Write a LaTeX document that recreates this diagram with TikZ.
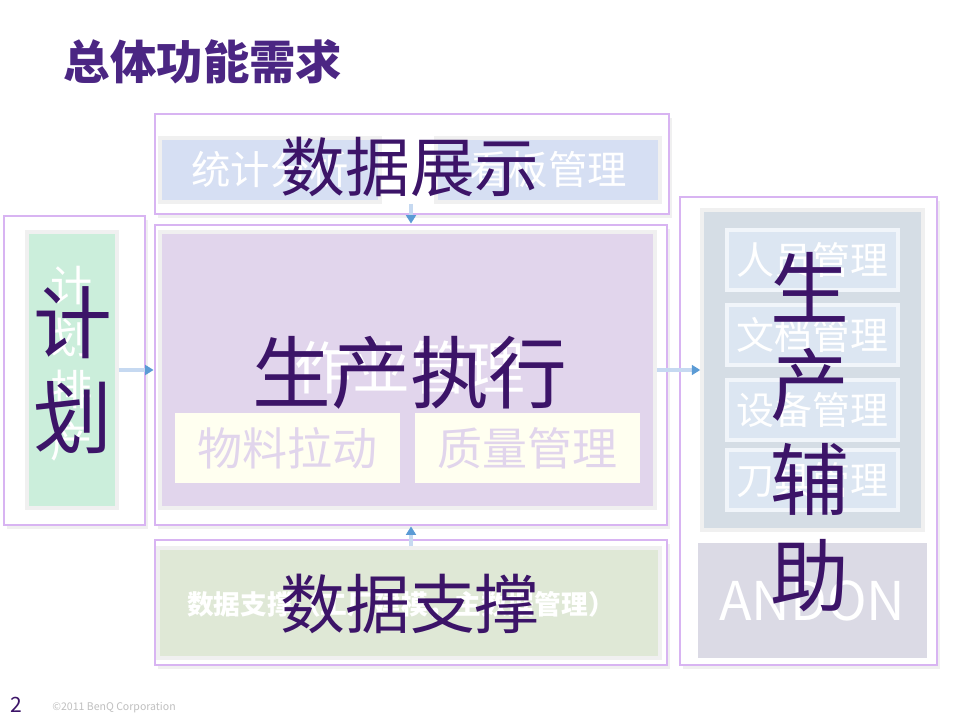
\documentclass[tikz,border=0pt]{standalone}
\usepackage{fontspec}
\usepackage{xcolor}
\newfontfamily\cjk{Noto Sans CJK SC}
\usetikzlibrary{arrows.meta,shadows}

\definecolor{titlepurple}{HTML}{4B2683}
\definecolor{bigpurple}{HTML}{3C1468}
\definecolor{framelilac}{HTML}{D8B4F2}
\definecolor{showblue}{HTML}{D6DFF3}
\definecolor{execlilac}{HTML}{E1D5EC}
\definecolor{ivory}{HTML}{FFFFF0}
\definecolor{plangreen}{HTML}{CBEEDB}
\definecolor{auxgrey}{HTML}{D5DDE5}
\definecolor{auxblue}{HTML}{DCE6F2}
\definecolor{andongrey}{HTML}{DBDAE5}
\definecolor{supportgreen}{HTML}{DFE8D6}
\definecolor{linkblue}{HTML}{C6D9F1}
\definecolor{tipblue}{HTML}{5B9BD5}
\def\pxu{0.025cm}

\begin{document}
\begin{tikzpicture}[x=0.025cm,y=-0.025cm,every node/.style={font=\cjk,inner sep=0pt},
  box/.style 2 args={rectangle,minimum width=#1*\pxu,minimum height=#2*\pxu},
  frame/.style={draw=framelilac,line width=2pt,fill=white,
    drop shadow={opacity=0.12,shadow xshift=2pt,shadow yshift=-3pt}},
  panel/.style={draw=black!6,line width=2.5pt},
  bigtext/.style={text=bigpurple,font=\cjk\fontsize{46}{54}\selectfont},
  tallword/.style={text=bigpurple,align=center,font=\cjk\fontsize{56}{68}\selectfont},
  link/.style={draw=linkblue,line width=2.2pt,-{Triangle[color=tipblue,length=6pt,width=7pt]}}]
\useasboundingbox (0,0) rectangle (960,720);

% title
\node[text=titlepurple,font=\cjk\bfseries\fontsize{33}{40}\selectfont] (title) at (203,62) {总体功能需求};

% frames
\node[frame,box={514}{100}] (showframe) at (412,164) {};
\node[frame,box={512}{300}] (execframe) at (411,375) {};
\node[frame,box={141}{309}] (planframe) at (74.5,370.5) {};
\node[frame,box={257}{468}] (auxframe) at (808.5,431) {};
\node[frame,box={512}{125}] (supportframe) at (411,602.5) {};

% 数据展示
\node[panel,fill=showblue,box={220}{64},text=white,font=\cjk\fontsize{28}{32}\selectfont] (statbox) at (270,170) {统计分析};
\node[panel,fill=showblue,box={224}{64},text=white,font=\cjk\fontsize{28}{32}\selectfont] (boardbox) at (548,170) {看板管理};

% 生产执行
\node[panel,fill=execlilac,box={495}{276}] (execbox) at (407.5,370) {};
\node[text=white,font=\cjk\fontsize{41}{48}\selectfont] (worklabel) at (410,368) {作业管理};
\node[fill=ivory,box={225}{70},text=execlilac,font=\cjk\fontsize{32}{38}\selectfont] (materialbox) at (287.5,448) {物料拉动};
\node[fill=ivory,box={225}{70},text=execlilac,font=\cjk\fontsize{32}{38}\selectfont] (qualitybox) at (527.5,448) {质量管理};

% 计划
\node[panel,fill=plangreen,box={90}{276}] (planbox) at (72,370) {};
\node[text=white,align=center,font=\cjk\fontsize{30}{37}\selectfont] (planlabel) at (72,364) {计\\划\\排\\产};

% 生产辅助
\node[panel,fill=auxgrey,box={221}{320}] (auxpanel) at (812.5,370) {};
\foreach \yy/\txt [count=\i] in {260/人员管理,335/文档管理,410/设备管理,480/刀具管理}
  \node[panel,draw=white!60!auxblue,fill=auxblue,box={171}{60},text=white,font=\cjk\fontsize{27}{32}\selectfont] (aux\i) at (812.5,\yy) {\txt};
\node[fill=andongrey,box={229}{115},text=white,font=\cjk\fontsize{38}{44}\selectfont] (andon) at (812.5,600.5) {ANDON};

% 数据支撑
\node[panel,fill=supportgreen,box={502}{110}] (supportbox) at (409,603) {};
\node[text=white,font=\cjk\bfseries\fontsize{19}{24}\selectfont] (supportlabel) at (401,605) {数据支撑（工厂建模，主数据管理）};

% connectors
\draw[link] (planbox.east) -- (planbox.east -| execframe.west);
\draw[link] (execbox.east) -- (auxpanel.west);
\draw[link] (statbox.south -| execframe.north) -- (execframe.north);
\draw[link] (supportbox.north -| execframe.south) -- (execframe.south);

% big labels
\node[bigtext] (showtitle) at (410,167) {数据展示};
\node[text=bigpurple,font=\cjk\fontsize{56}{66}\selectfont] (exectitle) at (410,373) {生产执行};
\node[tallword] (plantitle) at (73,370) {计\\划};
\node[tallword] (auxtitle) at (810,432) {生\\产\\辅\\助};
\node[bigtext] (supporttitle) at (410,604) {数据支撑};

% footer
\node[text=bigpurple,font=\cjk\fontsize{15}{18}\selectfont] (pageno) at (16,705) {2};
\node[text=black!25,font=\cjk\fontsize{7.5}{9}\selectfont] (copyright) at (114,708) {©2011 BenQ Corporation};
\end{tikzpicture}
\end{document}
